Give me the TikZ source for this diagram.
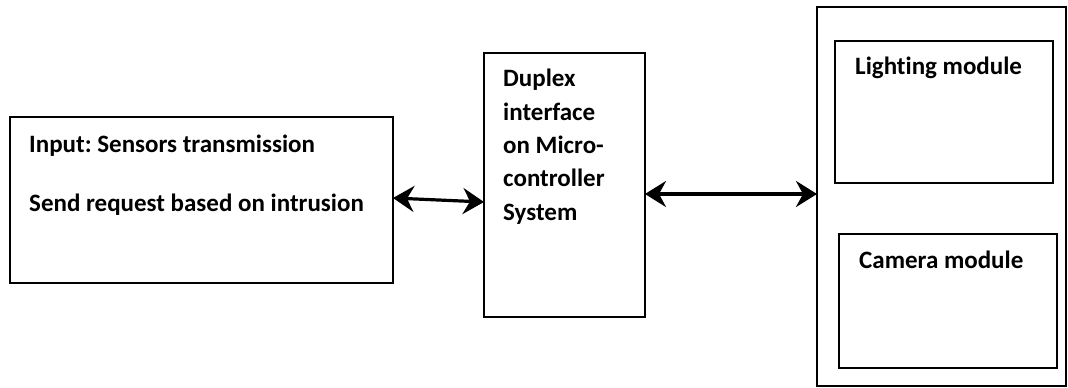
\documentclass[tikz,border=0pt]{standalone}
\usepackage{fontspec}
\setmainfont{Carlito}[Ligatures=NoCommon]
\frenchspacing
\usepackage{tikz}
\usetikzlibrary{calc,arrows.meta}
\tikzstyle{block} = [rectangle, draw=black, line width=1.4pt, inner sep=0pt, outer sep=0pt]
\tikzstyle{txt} = [inner sep=0pt, anchor=base west, align=left, font=\fontsize{25}{33.3}\selectfont\bfseries]
\tikzstyle{arrow} = [line width=3.2pt,{Stealth[length=21pt,width=26pt,inset=7pt]}-{Stealth[length=21pt,width=26pt,inset=7pt]}]

\begin{document}
\begin{tikzpicture}[x=1pt,y=-1pt]
\useasboundingbox (0,0) rectangle (1068,388);
\node (input) [block, minimum width=383pt, minimum height=166pt] at (201.5,200) {};
\node (duplex) [block, minimum width=161pt, minimum height=264pt] at (564.5,185) {};
\node (outer) [block, minimum width=249pt, minimum height=379pt] at (941.5,196.5) {};
\node (light) [block, minimum width=218pt, minimum height=142pt] at (944,112) {};
\node (camera) [block, minimum width=218pt, minimum height=134pt] at (948,301) {};
% base anchor sits on the last line
\node (inputtxt) [txt] at ($(input.north west)+(19,94)$) {Input: Sensors transmission\\[25.7pt]Send request based on intrusion};
\node (duplextxt) [txt] at ($(duplex.north west)+(19,167)$) {Duplex\\interface\\on Micro-\\controller\\System};
\node (lighttxt) [txt] at ($(light.north west)+(20,33)$) {Lighting module};
\node (cameratxt) [txt] at ($(camera.north west)+(20,34)$) {Camera module};
\draw [arrow] ([yshift=2pt]input.east) -- ([yshift=-17pt]duplex.west);
\draw [arrow] ([yshift=-9pt]duplex.east) -- ([yshift=-9pt]duplex.east -| outer.west);
\end{tikzpicture}
\end{document}
